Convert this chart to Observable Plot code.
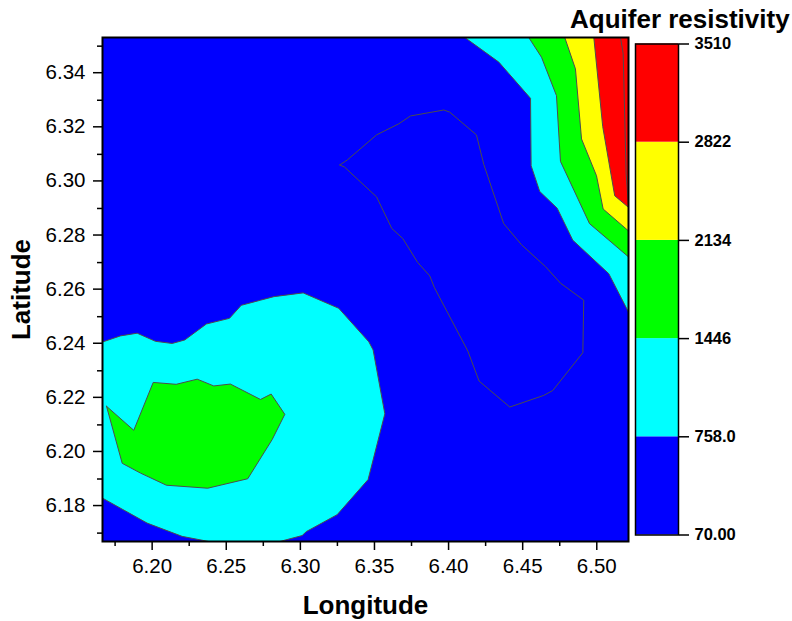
<!DOCTYPE html>
<html>
<head>
<meta charset="utf-8">
<script src="https://cdn.jsdelivr.net/npm/d3@7"></script>
<script src="https://cdn.jsdelivr.net/npm/@observablehq/plot@0.6"></script>
<style>
html,body{margin:0;padding:0;background:#fff;}
#chart{position:relative;width:792px;height:621px;font-family:"Liberation Sans",Arial,sans-serif;overflow:hidden;}
#chart svg{position:absolute;top:0;}
#title{position:absolute;left:570px;top:4px;font-size:26px;font-weight:bold;line-height:30px;white-space:nowrap;color:#000;}
</style>
</head>
<body>
<div id="chart"><div id="title">Aquifer resistivity</div></div>
<script>
const lonDomain = [6.1665, 6.5214];
const latDomain = [6.1669, 6.3532];
const lonTicks = [6.20, 6.25, 6.30, 6.35, 6.40, 6.45, 6.50];
const lonMinorTicks = [6.175, 6.225, 6.275, 6.325, 6.375, 6.425, 6.475];
const latTicks = [6.18, 6.20, 6.22, 6.24, 6.26, 6.28, 6.30, 6.32, 6.34];
const latMinorTicks = [6.17, 6.19, 6.21, 6.23, 6.25, 6.27, 6.29, 6.31, 6.33, 6.35];

const levels = [70, 758, 1446, 2134, 2822, 3510];
const levelLabels = ["70.00", "758.0", "1446", "2134", "2822", "3510"];
const levelColors = ["#0000ff", "#00ffff", "#00ff00", "#ffff00", "#ff0000"];

// contour regions as [longitude, latitude]
const cyanEast = [[6.4110,6.3532],[6.4339,6.3441],[6.4553,6.3307],[6.4557,6.3058],[6.4615,6.2963],[6.4733,6.2901],[6.4838,6.2783],[6.5081,6.2659],[6.5214,6.2517],[6.5214,6.3532]];
const greenEast = [[6.4541,6.3532],[6.4627,6.3459],[6.4728,6.3317],[6.4755,6.3074],[6.4951,6.2844],[6.5214,6.2721],[6.5214,6.3532]];
const yellowEast = [[6.4784,6.3532],[6.4856,6.3416],[6.4897,6.3157],[6.4998,6.3021],[6.5043,6.2898],[6.5214,6.2817],[6.5214,6.3532]];
const redEast = [[6.4980,6.3532],[6.5040,6.3203],[6.5121,6.2947],[6.5214,6.2904],[6.5214,6.3532]];
const redLine = [[6.5160,6.3532],[6.5178,6.3473],[6.5198,6.3029],[6.5214,6.2910]];
const cyanWest = [[6.1663,6.2406],[6.1786,6.2429],[6.1899,6.2439],[6.2022,6.2409],[6.2135,6.2401],[6.2220,6.2414],[6.2366,6.2473],[6.2522,6.2494],[6.2601,6.2542],[6.2731,6.2561],[6.2821,6.2574],[6.3019,6.2588],[6.3259,6.2531],[6.3462,6.2407],[6.3491,6.2377],[6.3570,6.2141],[6.3457,6.1898],[6.3248,6.1768],[6.3041,6.1706],[6.3012,6.1691],[6.2861,6.1669],[6.2382,6.1669],[6.2202,6.1688],[6.1966,6.1737],[6.1663,6.1830]];
const greenWest = [[6.1692,6.2169],[6.1876,6.2080],[6.2007,6.2257],[6.2162,6.2250],[6.2304,6.2269],[6.2416,6.2244],[6.2528,6.2251],[6.2731,6.2194],[6.2803,6.2214],[6.2895,6.2139],[6.2810,6.2046],[6.2645,6.1901],[6.2375,6.1866],[6.2096,6.1877],[6.1921,6.1922],[6.1798,6.1958],[6.1692,6.2169]];
const innerLoop = [[6.3266,6.3061],[6.3316,6.3079],[6.3514,6.3172],[6.3664,6.3213],[6.3743,6.3242],[6.3968,6.3264],[6.4008,6.3256],[6.4188,6.3172],[6.4238,6.3062],[6.4372,6.2844],[6.4492,6.2766],[6.4654,6.2685],[6.4755,6.2624],[6.4912,6.2561],[6.4906,6.2367],[6.4703,6.2227],[6.4642,6.2209],[6.4413,6.2166],[6.4206,6.2262],[6.4130,6.2373],[6.3905,6.2607],[6.3873,6.2651],[6.3792,6.2700],[6.3691,6.2789],[6.3617,6.2826],[6.3514,6.2943],[6.3298,6.3053],[6.3266,6.3061]];

const lineColor = "#4d4d4d";
const region = (pts, fill) => Plot.line(pts, {x: d => d[0], y: d => d[1], fill, stroke: lineColor, strokeWidth: 1, clip: "frame"});

const fontFamily = '"Liberation Sans", Arial, sans-serif';

const main = Plot.plot({
  width: 632, height: 621,
  marginLeft: 102, marginRight: 4, marginTop: 37, marginBottom: 80,
  style: {fontFamily, background: "transparent", color: "#000", overflow: "visible"},
  x: {domain: lonDomain},
  y: {domain: latDomain},
  marks: [
    Plot.frame({fill: levelColors[0], stroke: "none"}),
    region(cyanEast, levelColors[1]),
    region(greenEast, levelColors[2]),
    region(yellowEast, levelColors[3]),
    region(redEast, levelColors[4]),
    region(redLine, "none"),
    region(cyanWest, levelColors[1]),
    region(greenWest, levelColors[2]),
    region(innerLoop, "none"),
    Plot.frame({stroke: "#000", strokeWidth: 2}),
    Plot.axisX({ticks: lonTicks, tickSize: 9, tickPadding: 8, tickFormat: d3.format(".2f"), fontSize: 20.5, strokeWidth: 1.5, label: null}),
    Plot.axisX({ticks: lonMinorTicks, tickSize: 5, fill: "none", strokeWidth: 1.5, label: null}),
    Plot.axisY({ticks: latTicks, tickSize: 9, tickPadding: 8, tickFormat: d3.format(".2f"), fontSize: 20.5, strokeWidth: 1.5, label: null, dy: -0.5}),
    Plot.axisY({ticks: latMinorTicks, tickSize: 5, fill: "none", strokeWidth: 1.5, label: null}),
    Plot.text(["Longitude"], {frameAnchor: "bottom", dy: 72, fontSize: 26, fontWeight: "bold", fill: "#000"}),
    Plot.text(["Latitude"], {frameAnchor: "left", textAnchor: "middle", dx: -81, rotate: -90, fontSize: 26, fontWeight: "bold", fill: "#000"})
  ]
});
main.style.left = "0px";

const bands = levelColors.map((color, i) => ({from: levels[i], to: levels[i + 1], color}));
const legend = Plot.plot({
  width: 160, height: 621,
  marginLeft: 3, marginRight: 114, marginTop: 43.5, marginBottom: 86.5,
  style: {fontFamily, background: "transparent", color: "#000", overflow: "visible"},
  x: {domain: [0, 1], axis: null},
  y: {domain: [levels[0], levels[5]]},
  marks: [
    Plot.rect(bands, {x1: 0, x2: 1, y1: "from", y2: "to", fill: "color"}),
    Plot.frame({stroke: "#000", strokeWidth: 1.5}),
    Plot.axisY({anchor: "right", ticks: levels, tickSize: 10, tickPadding: 6, strokeWidth: 1.5, fontSize: 16.5, fontWeight: "bold", label: null,
      tickFormat: d => levelLabels[levels.indexOf(d)]})
  ]
});
legend.style.left = "632px";

const chart = document.getElementById("chart");
chart.insertBefore(main, chart.firstChild);
chart.insertBefore(legend, document.getElementById("title"));
</script>
</body>
</html>
